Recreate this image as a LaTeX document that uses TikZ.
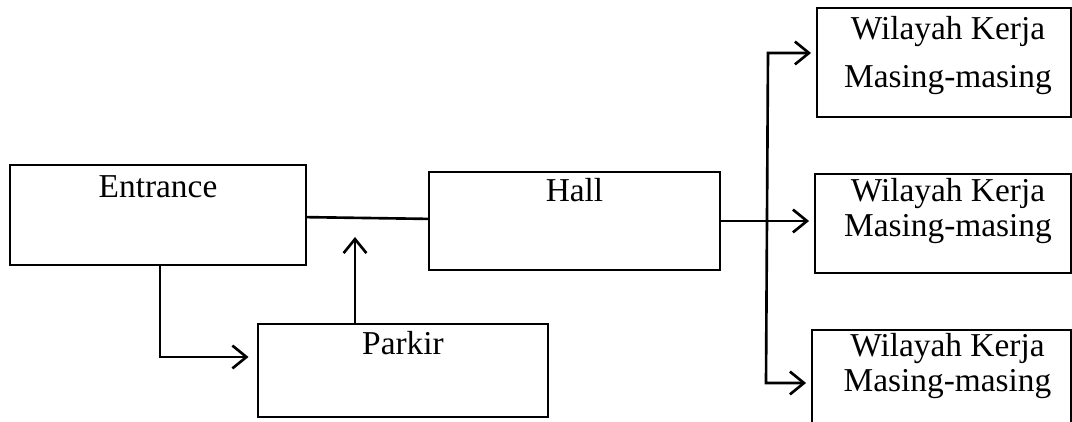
\documentclass[tikz,border=0pt]{standalone}
\usepackage{fontspec}
\setmainfont{Liberation Serif}
\usetikzlibrary{arrows.meta}
\tikzset{>={Straight Barb[length=8pt,width=13pt]}}
\tikzset{
  box/.style={draw, line width=0.8pt, inner sep=0pt},
  lbl/.style={anchor=base, inner sep=0pt, font=\fontsize{19}{21}\selectfont},
  flow/.style={line width=1.5pt}
}

\begin{document}
\begin{tikzpicture}[x=0.02cm, y=-0.02cm]
    \useasboundingbox (0, 0) rectangle (1072, 422);
    \clip (0, 0) rectangle (1072, 422);
    % rooms
    \node[box, minimum width=5.92cm, minimum height=2.00cm](entr) at (158, 215){};
    \node[box, minimum width=5.82cm, minimum height=1.96cm](hall) at (574.5, 221){};
    \node[box, minimum width=5.80cm, minimum height=1.86cm](prk) at (403, 370.5){};
    \node[box, minimum width=5.08cm, minimum height=2.18cm](wk1) at (944, 62.5){};
    \node[box, minimum width=5.12cm, minimum height=1.98cm](wk2) at (943, 223.5){};
    \node[box, minimum width=5.18cm, minimum height=2.20cm](wk3) at (941.5, 385){};
    % names
    \node[lbl](entrT) at ([yshift=-0.66cm]entr.north){Entrance};
    \node[lbl](hallT) at ([yshift=-0.60cm]hall.north){Hall};
    \node[lbl](prkT) at ([yshift=-0.62cm]prk.north){Parkir};
    \node[lbl](wk1a) at ([xshift=0.08cm, yshift=-0.64cm]wk1.north){Wilayah Kerja};
    \node[lbl](wk1b) at ([xshift=0.08cm, yshift=-1.60cm]wk1.north){Masing-masing};
    \node[lbl](wk2a) at ([xshift=0.10cm, yshift=-0.56cm]wk2.north){Wilayah Kerja};
    \node[lbl](wk2b) at ([xshift=0.10cm, yshift=-1.26cm]wk2.north){Masing-masing};
    \node[lbl](wk3a) at ([xshift=0.12cm, yshift=-0.54cm]wk3.north){Wilayah Kerja};
    \node[lbl](wk3b) at ([xshift=0.12cm, yshift=-1.24cm]wk3.north){Masing-masing};
    % bends and free ends
    \coordinate(jn) at (355, 237);
    \coordinate(dn) at (160, 357);
    \coordinate(busT) at (768, 53);
    \coordinate(busB) at (766, 383);
    % connectors
    \draw[flow](entr)--(hall);
    \draw[flow, ->](prk.north -| jn)--(jn);
    \draw[flow, ->, shorten >=5pt](dn |- entr.south)--(dn)--(dn -| prk.west);
    \draw[flow, ->, shorten >=3pt](hall.east)--(hall.east -| wk2.west);
    \draw[flow, <->, shorten <=3pt, shorten >=3pt](busT -| wk1.west)--(busT)--(busB)--(busB -| wk3.west);
\end{tikzpicture}
\end{document}
